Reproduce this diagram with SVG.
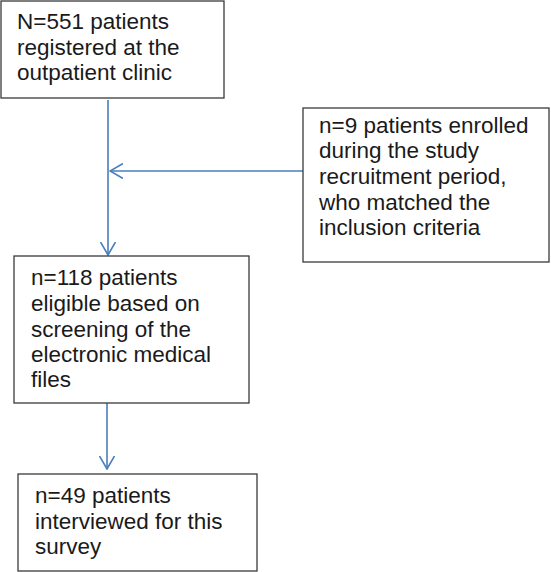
<svg xmlns="http://www.w3.org/2000/svg" width="551" height="572" viewBox="0 0 551 572">
<defs>
<style>
.box{fill:#fff;stroke:#3a3a3a;stroke-width:1.3}
.t{font-family:"Liberation Sans",Arial,sans-serif;font-size:22.5px;fill:#1a1a1a}
.c{fill:none;stroke:#4a7ebb;stroke-width:1.6}
</style>
<marker id="ah" viewBox="0 0 14 16" refX="13" refY="8" markerWidth="14" markerHeight="16" markerUnits="userSpaceOnUse" orient="auto">
<path d="M0,0.5 L13,8 L0,15.5" fill="none" stroke="#4a7ebb" stroke-width="1.6"/>
</marker>
</defs>
<rect width="551" height="572" fill="#fff"/>
<g id="connectors">
<line class="c" x1="108" y1="100" x2="108" y2="255" marker-end="url(#ah)"/>
<line class="c" x1="303" y1="171" x2="110" y2="171" marker-end="url(#ah)"/>
<line class="c" x1="107" y1="403" x2="107" y2="469" marker-end="url(#ah)"/>
</g>
<g id="n1">
<rect class="box" x="1" y="1" width="223" height="97"/>
<text class="t" x="17" y="29">N=551 patients</text>
<text class="t" x="17" y="55">registered at the</text>
<text class="t" x="17" y="80">outpatient clinic</text>
</g>
<g id="n2">
<rect class="box" x="303" y="108" width="246" height="154"/>
<text class="t" x="319" y="133">n=9 patients enrolled</text>
<text class="t" x="319" y="158">during the study</text>
<text class="t" x="319" y="184">recruitment period,</text>
<text class="t" x="319" y="210">who matched the</text>
<text class="t" x="319" y="235">inclusion criteria</text>
</g>
<g id="n3">
<rect class="box" x="14" y="256" width="235" height="147"/>
<text class="t" x="31" y="285">n=118 patients</text>
<text class="t" x="31" y="311">eligible based on</text>
<text class="t" x="31" y="337">screening of the</text>
<text class="t" x="31" y="362">electronic medical</text>
<text class="t" x="31" y="387">files</text>
</g>
<g id="n4">
<rect class="box" x="18" y="474" width="239" height="97"/>
<text class="t" x="35" y="503">n=49 patients</text>
<text class="t" x="35" y="529">interviewed for this</text>
<text class="t" x="35" y="554">survey</text>
</g>
</svg>
